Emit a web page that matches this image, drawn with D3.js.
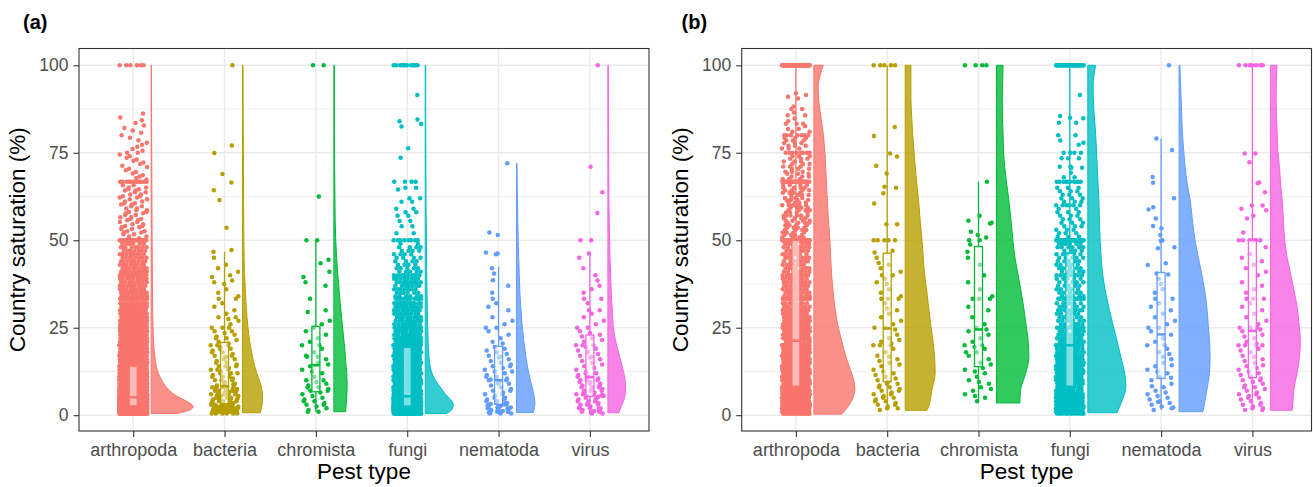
<!DOCTYPE html>
<html>
<head>
<meta charset="utf-8">
<script src="https://cdn.jsdelivr.net/npm/d3@7"></script>
<style>
  body { margin: 0; background: #fff; }
  text { font-family: "Liberation Sans", Arial, sans-serif; }
</style>
</head>
<body>
<svg id="chart" width="1313" height="487"></svg>
<script>
// categories, colours, ticks
var categories = ['arthropoda', 'bacteria', 'chromista', 'fungi', 'nematoda', 'virus'];
var colors = ['#F8766D', '#B79F00', '#00BA38', '#00BFC4', '#619CFF', '#F564E3'];
var yTicks = [0, 25, 50, 75, 100];
var yMinor = [12.5, 37.5, 62.5, 87.5];

// points: plain value, or [value, how many points sit on it]
// panel (a)
var aArthropoda = [[0.5,130],[1,155],[1.5,165],[2,170],[2.5,180],[3,170],[3.5,170],[4,165],[4.5,155],[5,140],[5.5,105],
  [6,120],[7,110],[8,100],[9,85],[10,75],[11,65],[12,55],[13,45],[14,40],[15,36],[16,34],[17,32],[18,30],[19,28],[20,40],
  [21,24],[22,22],[23,22],[24,20],[25,30],[26,18],[27,17],[28,16],[29,15],[30,15],[31,14],[32,14],[33.3,25],[34,12],[35,12],
  [36,11],[37,11],[38,10],[39,10],[40,16],[41,12],[42,9],[43,9],[44,8],[45,8],[46,8],[47,7],[48,7],[49,6],[50,22],
  [50.6,2],[51.1,2],[51.7,2],[52.2,2],[52.6,2],[53.2,2],[53.7,2],[54.1,2],[54.6,2],[55.2,2],[55.7,2],[56.1,2],[56.6,2],
  [57.2,2],[57.7,2],[58.1,2],[58.6,2],[59.1,2],[59.7,2],[60.2,2],[60.6,2],[61.1,2],[61.7,2],[62.2,2],[62.6,2],[63.1,2],
  [63.7,2],[64.2,2],[64.6,2],[65.1,2],[65.7,2],[66.7,12],67.3,67.8,68.2,68.6,69.1,69.5,70,70.4,70.9,71.3,71.8,72.2,72.7,
  73.1,73.6,74,74.5,75,75,75.6,76.1,76.7,77.3,77.9,78.6,79.3,80,80.7,81.4,82.1,82.8,83.5,84.3,85.1,86.2,[100,6]];
var aBacteria = [100,77.1,74.9,68.9,66.5,64.3,61.5,53.6,47.2,46.7,45,43,42,41,40,39.5,38.5,38,37.5,36,35,34,33.3,33.3,
  32,31,30,29,28,28,27.5,27,26,25,25,25,24,24,23.5,23,22.5,22,22,21.5,21,
  8.5,8.8,9,9,9.5,10,10,10.5,11,11,11.5,12,12,12.5,13,13,13.5,14,14,14.5,15,15,15.5,16,16,16.5,16.7,17,17,17.5,
  18,18,18.5,19,19,19.5,20,20,20,20.5,10,11,12,13,14,
  [3.5,4],[4,5],[4.5,4],[5,5],[5.5,4],[6,5],[6.5,4],[7,5],[7.5,4],[8,5],
  [0.5,6],[1,10],[1.5,8],[2,9],[2.5,7],[3,5]];
var aChromista = [100,100,62.5,50,50,44.4,43.4,41,39.5,38,37,33.3,30,29.5,27,26,25,24,23,22,21,20,20,19,18,17,16.7,16.7,
  16,15,14.5,14,13,12.5,12,11,10,10,9.5,9,8.5,8,8,7.5,7,7,6.5,6,5.5,5,4.5,4,4,3.5,3,3,2.5,2,1.5,1,1];
var aFungi = [[0.5,50],[1,60],[1.5,64],[2,66],[2.5,68],[3,62],[3.5,62],[4,62],[4.5,62],[5,60],[6,27],[7,32],[8,30],[9,28],
  [10,26],[11,24],[12,22],[13,20],[14,19],[15,18],[16,17],[17,16],[18,15],[19,14],[20,24],[21,14],[22,13],[23,12],[24,12],
  [25,14],[26,9],[27,10],[28,10],[29,10],[30,11],[31,11],[32,12],[33.3,12],[34,6],[35,6],[36,7],[37,7],[38,8],[39,8],[40,8],
  [41,5],[42,5],[43,4],[44,4],[45,4],[46,4],[47,4],[48,4],[49,2],[50,8],[52,2],[54,2],[55.5,2],[57,2],[58,2],[59,2],[61,2],
  [62,2],64.5,[65,2],[66.7,4],73.6,76.3,82.5,83.2,84,84.5,91.5,[100,10]];
var aNematoda = [72,52.2,51.5,46.5,46.2,46,42,40.5,38.6,37,35,33.3,32,31,30,28,27,26,25,25,24,23,22,21,20.5,
  19.5,19,18.5,18,17.5,17,16.7,16.5,16,15.5,15,14.5,14,14,13.5,13,12.5,12.5,12,11.5,11,11,10.5,10.5,10.2,
  10,10,9.5,9,9,8.5,8,7.5,7,7,6.5,6,6,5.5,5,5,4.5,4.5,4,4,3.5,3.5,3.3,3.2,3.1,
  3,3,2.8,2.7,2.5,2.5,2.3,2.2,2,2,2,1.8,1.5,1.5,1.5,1.2,1,1,1,1,0.8,0.8,0.5,0.5,0.5];
var aVirus = [100,71,63.7,57.8,50,50,46.2,45,42,40,38.5,37,36,35,33.3,33.3,32,30,30,29,28,27,26,25,25,24,23.5,23,
  22.5,22,21.5,21,20,20,20,19.5,19,18.5,18,17.5,17,16.7,16.5,16,15.5,15,14.5,14,13.5,13,12.5,12,12,11.5,11,11,
  10.8,10.5,10,10,10,9.5,9.5,9,9,8.5,8.5,8,8,8,7.5,7.5,7,7,7,6.5,6.5,6,6,6,5.8,5.6,5.5,5.5,
  5.2,5,5,4.5,4.5,4,4,4,3.5,3.5,3,3,3,2.5,2.5,2,2,2,1.8,1.5,1.5,1.2,1,1,1,0.8,0.5,0.5];

// panel (b)
var bArthropoda = [[0.5,25],[1,32],[1.5,20],[2,32],[2.5,18],[3,32],[3.5,12],[4,30],[5,32],[6,30],[7,30],[7.5,12],[8,26],
  [9,26],[10,28],[11,24],[12,24],[12.5,12],[13,22],[14,24],[15,22],[16,22],[16.7,12],[17,20],[18,20],[19,18],[20,30],[21,8],
  [22,16],[23,16],[24,16],[25,25],[26,13],[27,13],[28,12],[29,12],[30,17],[31,9],[32,9],[33.3,25],[34,9],[35,9],[36,9],
  [37,9],[38,9],[39,9],[40,12],[41,7],[42,7],[43,7],[44,7],[45,7],[46,7],[47,7],[48,7],[49,7],
  [50,55],[50.8,4],[51.5,4],[52.2,4],[52.9,4],[53.6,4],[54.3,4],[55,4],[55.6,4],[56.3,4],[57.1,6],[57.9,4],[58.6,4],[59.3,4],
  [60,6],[60.8,4],[61.5,4],[62.1,4],[62.9,4],[63.6,4],[64.3,4],[65,4],[65.8,4],[66.7,26],[67.5,3],[68.2,3],[69,3],[69.6,3],
  [70.4,3],[71.1,3],[71.8,3],[72.5,3],[73.3,3],[74,3],[75,8],[76.2,3],[77,3],[77.8,3],[78.5,3],[79.2,3],[80,7],[81,2],
  [81.8,2],82.6,[83.3,3],84,84.8,[85.7,2],86.5,[87.5,2],88.2,90.5,91,91.5,92,[100,70]];
var bBacteria = [[100,5],82.4,79.8,74.8,73.9,71.3,69.1,65.3,65,63.4,60.5,54.6,54.6,[50,5],47,46.5,
  45,43.5,43,42,41,40,40,39,38,37.5,36,35,34,33.3,33.3,33.3,32,30.5,30,29,28,27,26,25,25,
  24.5,23,22,21.5,21,20.5,20,20,20,19,18,17,16.7,16,15.5,15,14.5,14,13,12.5,12,11.5,11,10.5,10,
  9.5,9,9,8.5,8,8,7.5,7,7,6.5,6,6,5.5,5,5,4.5,4,4,3.5,3,3,2.5,2,2,1.5];
var bChromista = [[100,4],66.7,57,55.6,55,54.8,52.4,51.5,50.8,50,50,48.8,
  46.7,45,43,40,38,36,34,33.3,33.3,33.3,31,30,28,26,25,
  24.5,24,23,22,21,20,20,19.5,19,18,18,17,16,15,14.5,
  13.5,13,12.5,12,11,10,9.5,9,8,7.5,7,6,5.5,5,4];
var bFungi = [[0.5,14],[1,22],[1.5,10],[2,22],[2.5,11],[3,22],[4,20],[5,20],[6,16],[7,12],[8,10],
  [9,16],[10,18],[11,15],[12,15],[12.5,8],[13,14],[14,14],[14.3,6],[15,14],[16,13],[16.7,8],[17,12],[18,12],[19,10],[20,16],
  [21,10],[22,9],[23,9],[24,7],[25,14],[26,6],[27,6],[28,6],[29,6],[30,8],[31,6],[32,6],[33.3,14],[34,5],[35,5],[36,5],
  [37,5],[38,5],[39,5],[40,8],[41,5],[42,5],[43,5],[44,5],[45,5],[46,5],
  [47,4],[48,6],[49,6],[50,36],[51,3],[52,3],[53,3],[54,3],[55,3],[56,3],[57,3],[58,3],[59,2],[60,6],[61,3],[62,3],[63,3],
  [64,3],[65,3],[66.7,10],[68,2],[69.3,1],[70.7,2],[71,2],[73.4,3],[75,4],77.3,77.9,78.5,[80,2],[83.6,2],84.9,85,85.5,91.5,
  [100,40]];
var bNematoda = [100,79.1,75.8,68.1,66.4,62,59.4,58.8,56.2,54.1,53.4,51.5,50,49.8,48,47.7,43.4,42.9,
  40.5,40.2,39,37.5,36,35,33.3,33.3,32,31,30,29,28,27,26,25,25,24,
  23,22,21,20,20,19,18,17.5,16.7,16,15,14.3,14,13,12.5,12,11,10.7,
  10,9,8.3,8,7,6.5,6,5.5,5,4.5,4,3.8,3.5,3,2.5,2.2,2,1.5];
var bVirus = [[100,7],74.8,74.8,72.3,66.5,66.3,63.7,59.9,59.9,59,58.6,57,56.2,52.2,[50,6],
  48,46,45,44,43,42,41,40,38,37,36,35,33.3,33.3,33.3,32,31,30,29,28,27,26,25,25,25,24.5,
  24,23,22.5,22,21,20.5,20,20,20,20,19,18.5,18,17,16.7,16,15.5,15,14.3,14,13.5,13,12.5,12,11.5,11,
  10.5,10,10,9.5,9,8.5,8,8,7.5,7,6.5,6,6,5.5,5,5,4.5,4,3.5,3,3,2.5,2,2,1.5,1.5];

// half violins: [value, relative density]
var vaArthropoda = [[0.5,0.62],[1,0.8],[1.5,0.92],[2,0.98],[2.5,1],[3,0.97],[4,0.84],[5,0.68],[6,0.54],[7,0.44],[8,0.36],
  [10,0.25],[12,0.17],[14,0.12],[17,0.085],[20,0.06],[25,0.045],[30,0.035],[40,0.028],[50,0.022],[60,0.018],[70,0.014],
  [80,0.011],[90,0.008],[100,0.006]];
var vaBacteria = [[0.7,0.42],[2,0.45],[3.5,0.47],[5.2,0.476],[8,0.45],[10,0.4],[12,0.34],[14,0.29],[16.5,0.24],[19,0.2],
  [21.4,0.167],[25,0.13],[31,0.088],[35,0.07],[40.5,0.048],[45,0.038],[50,0.031],[60,0.025],[70,0.022],[77,0.02],[85,0.015],
  [100,0.012]];
var vaChromista = [[1,0.28],[4.3,0.3],[9.1,0.317],[13.8,0.293],[18.6,0.262],[23.4,0.222],[28,0.183],[33,0.143],[40,0.095],
  [45,0.065],[50,0.045],[56,0.03],[62.5,0.025],[70,0.018],[80,0.013],[90,0.012],[100,0.012]];
var vaFungi = [[0.5,0.5],[1,0.58],[2,0.65],[3,0.667],[4,0.63],[5,0.56],[6,0.48],[8,0.36],[10,0.24],[12,0.16],[15,0.105],
  [18,0.082],[21,0.07],[25,0.06],[30,0.05],[40,0.036],[50,0.028],[60,0.02],[70,0.016],[80,0.013],[90,0.011],[100,0.012]];
var vaNematoda = [[0.8,0.4],[3.4,0.436],[6,0.41],[8,0.37],[12,0.29],[16.5,0.225],[21.4,0.17],[26,0.13],[31,0.1],[35,0.08],
  [40.6,0.063],[45,0.05],[50,0.04],[55,0.03],[60,0.022],[66,0.015],[72,0.01]];
var vaVirus = [[0.7,0.26],[2,0.3],[4,0.37],[6,0.41],[8,0.42],[10,0.41],[12,0.38],[14,0.34],[16.5,0.285],[19,0.23],[21.4,0.18],
  [25,0.13],[31,0.1],[35,0.08],[40.6,0.064],[45,0.05],[50,0.04],[60,0.025],[70,0.02],[80,0.015],[90,0.012],[100,0.01]];

var vbArthropoda = [[0.3,0.675],[2.4,0.83],[5,0.95],[7.2,1],[9.5,0.98],[12,0.92],[16,0.8],[21.4,0.675],[26,0.58],[31,0.51],
  [35,0.47],[40.5,0.43],[45,0.41],[50,0.39],[56.6,0.35],[65.2,0.31],[74.8,0.27],[80.5,0.227],[87.2,0.146],[90.5,0.115],
  [93.9,0.105],[97,0.15],[100,0.227]];
var vbBacteria = [[1.4,0.53],[2.4,0.57],[7.2,0.65],[12,0.73],[16,0.72],[21.4,0.675],[26,0.62],[31,0.57],[36,0.52],[40.5,0.47],
  [45,0.44],[50,0.41],[55,0.37],[61.5,0.325],[66,0.285],[71,0.244],[76,0.21],[80.5,0.18],[85,0.16],[90,0.14],[95,0.138],
  [100,0.14]];
var vbChromista = [[3.5,0.57],[7.1,0.585],[11.9,0.71],[16.7,0.79],[21.4,0.77],[26,0.72],[31,0.66],[36,0.59],[40.5,0.52],
  [44.3,0.46],[50,0.4],[55,0.36],[61.5,0.3],[66,0.25],[71,0.2],[76,0.17],[80.6,0.16],[85,0.145],[90,0.14],[95,0.15],[100,0.16]];
var vbFungi = [[0.7,0.71],[4.3,0.84],[8.2,0.93],[12,0.9],[16,0.82],[21.4,0.71],[26,0.61],[31,0.51],[36,0.42],[40.5,0.36],
  [44.3,0.33],[50,0.3],[55,0.285],[61.5,0.27],[66,0.25],[71,0.23],[76,0.21],[80.6,0.19],[87,0.15],[93.9,0.13],[97,0.15],
  [100,0.19]];
var vbNematoda = [[1,0.58],[4,0.63],[7.1,0.675],[12,0.74],[16.7,0.756],[21.4,0.74],[26,0.71],[31,0.675],[36,0.62],[40.5,0.55],
  [45,0.47],[50,0.39],[55,0.33],[61.5,0.27],[66,0.2],[71,0.146],[76,0.11],[80.6,0.08],[85,0.065],[90,0.05],[95,0.035],[100,0.02]];
var vbVirus = [[1.4,0.53],[4,0.55],[7.1,0.57],[12,0.65],[16.7,0.71],[21.4,0.73],[26,0.7],[31,0.65],[36,0.57],[40.5,0.49],
  [45,0.41],[50,0.35],[55,0.32],[61.5,0.285],[66,0.25],[71,0.22],[76,0.18],[80.6,0.165],[85,0.15],[90,0.14],[95,0.145],[100,0.16]];

// boxplots: [lower whisker, q1, median, q3, upper whisker]
var boxA = [[0.5,2.7,5.1,14,31],[0.5,3.3,8.3,20.8,46.7],[1,6.7,14.3,25.4,50],[0.5,2.6,5.4,19.4,44],[0.5,3.1,10,19.7,42.4],[0.5,5.4,10.9,22.9,46.3]];
var boxB = [[0.5,8.3,21.3,50,100],[1.5,9.6,24.8,46.3,100],[4,13.9,24.5,48.2,66.7],[0.5,8.3,20,46.3,100],[1.5,10.5,23.1,40.8,79.1],[1.5,10.7,24.1,50,100]];

// layout
var panels = [
  { left: 79, right: 649, top: 48.5, bottom: 431, label: '(a)', labelX: 23, maxW: 42,
    points: [aArthropoda, aBacteria, aChromista, aFungi, aNematoda, aVirus],
    violins: [vaArthropoda, vaBacteria, vaChromista, vaFungi, vaNematoda, vaVirus], boxes: boxA },
  { left: 741.7, right: 1311.5, top: 48.5, bottom: 431, label: '(b)', labelX: 681.5, maxW: 41,
    points: [bArthropoda, bBacteria, bChromista, bFungi, bNematoda, bVirus],
    violins: [vbArthropoda, vbBacteria, vbChromista, vbFungi, vbNematoda, vbVirus], boxes: boxB }
];

var svg = d3.select('#chart');
var jitterHalf = 14;
var pointR = 2.25;
var boxHalf = 4;
var violinGap = 18;

// expand the value lists and give each point a horizontal jitter in [-1, 1]:
// points sharing a value are spread evenly, the start shifts with the value
function expand(list) {
  var out = [];
  var seen = {};
  list.forEach(function (d) {
    var v = Array.isArray(d) ? d[0] : d;
    var n = Array.isArray(d) ? d[1] : 1;
    for (var i = 0; i < n; i++) {
      var j = seen[v] || 0;
      seen[v] = j + 1;
      var f = (0.31 + j * 0.6180339887 + v * 5.2847) % 1;
      out.push({ v: v, j: f * 2 - 1 });
    }
  });
  return out;
}

function drawPanel(p) {
  var g = svg.append('g');
  var x = d3.scalePoint().domain(categories).range([p.left + 54.2, p.right - 59.1]);
  var y = d3.scaleLinear().domain([0, 100]).range([415.2, 65.3]);
  var w = d3.scaleLinear().domain([0, 1]).range([0, p.maxW]);

  // grid
  g.selectAll('.minor').data(yMinor).enter().append('line')
    .attr('x1', p.left).attr('x2', p.right)
    .attr('y1', function (d) { return y(d); }).attr('y2', function (d) { return y(d); })
    .attr('stroke', '#ebebeb').attr('stroke-width', 0.7);
  g.selectAll('.major').data(yTicks).enter().append('line')
    .attr('x1', p.left).attr('x2', p.right)
    .attr('y1', function (d) { return y(d); }).attr('y2', function (d) { return y(d); })
    .attr('stroke', '#ebebeb').attr('stroke-width', 1.4);
  g.selectAll('.vmajor').data(categories).enter().append('line')
    .attr('x1', function (d) { return x(d); }).attr('x2', function (d) { return x(d); })
    .attr('y1', p.top).attr('y2', p.bottom)
    .attr('stroke', '#ebebeb').attr('stroke-width', 1.4);

  // half violins
  categories.forEach(function (c, i) {
    var x0 = x(c) + violinGap;
    var area = d3.area()
      .curve(d3.curveMonotoneY)
      .y(function (d) { return y(d[0]); })
      .x0(x0)
      .x1(function (d) { return x0 + w(d[1]); });
    g.append('path')
      .attr('d', area(p.violins[i]))
      .attr('fill', colors[i])
      .attr('fill-opacity', 0.8)
      .attr('stroke', colors[i])
      .attr('stroke-width', 1);
  });

  // jittered points
  categories.forEach(function (c, i) {
    g.append('g').selectAll('circle')
      .data(expand(p.points[i]))
      .enter()
      .append('circle')
      .attr('cx', function (d) { return x(c) + d.j * jitterHalf; })
      .attr('cy', function (d) { return y(d.v); })
      .attr('r', pointR)
      .attr('fill', colors[i]);
  });

  // boxplots on top
  categories.forEach(function (c, i) {
    var b = p.boxes[i];
    var cx = x(c);
    var bg = g.append('g').attr('stroke', colors[i]);
    bg.append('line').attr('x1', cx).attr('x2', cx).attr('y1', y(b[3])).attr('y2', y(b[4])).attr('stroke-width', 1.3);
    bg.append('line').attr('x1', cx).attr('x2', cx).attr('y1', y(b[1])).attr('y2', y(b[0])).attr('stroke-width', 1.3);
    bg.append('rect')
      .attr('x', cx - boxHalf).attr('width', boxHalf * 2)
      .attr('y', y(b[3])).attr('height', y(b[1]) - y(b[3]))
      .attr('fill', '#fff').attr('fill-opacity', 0.5)
      .attr('stroke-width', 1.3);
    bg.append('line').attr('x1', cx - boxHalf).attr('x2', cx + boxHalf)
      .attr('y1', y(b[2])).attr('y2', y(b[2])).attr('stroke-width', 2.6);
  });

  // border
  g.append('rect')
    .attr('x', p.left).attr('y', p.top)
    .attr('width', p.right - p.left).attr('height', p.bottom - p.top)
    .attr('fill', 'none').attr('stroke', '#333').attr('stroke-width', 1.1);

  // axes
  var yAxis = d3.axisLeft(y).tickValues(yTicks).tickSize(5.5).tickPadding(5);
  var gy = g.append('g').attr('transform', 'translate(' + p.left + ',0)').call(yAxis);
  var xAxis = d3.axisBottom(x).tickSize(6).tickPadding(6.5);
  var gx = g.append('g').attr('transform', 'translate(0,' + p.bottom + ')').call(xAxis);
  [gx, gy].forEach(function (a) {
    a.select('.domain').remove();
    a.selectAll('line').attr('stroke', '#333').attr('stroke-width', 1.1);
    a.selectAll('text').attr('fill', '#4d4d4d')
      .style('font-family', '"Liberation Sans", Arial, sans-serif');
  });
  gy.selectAll('text').style('font-size', '17.5px');
  gx.selectAll('text').style('font-size', '18px');

  // titles
  g.append('text')
    .attr('x', (p.left + p.right) / 2).attr('y', 479)
    .attr('text-anchor', 'middle').style('font-size', '22.5px').attr('fill', '#000')
    .text('Pest type');
  g.append('text')
    .attr('transform', 'translate(' + (p.left - 54) + ',' + ((p.top + p.bottom) / 2) + ') rotate(-90)')
    .attr('text-anchor', 'middle').style('font-size', '22.5px').attr('fill', '#000')
    .text('Country saturation (%)');
  g.append('text')
    .attr('x', p.labelX).attr('y', 29)
    .style('font-size', '20px').style('font-weight', 'bold').attr('fill', '#000')
    .text(p.label);
}

panels.forEach(drawPanel);
</script>
</body>
</html>
